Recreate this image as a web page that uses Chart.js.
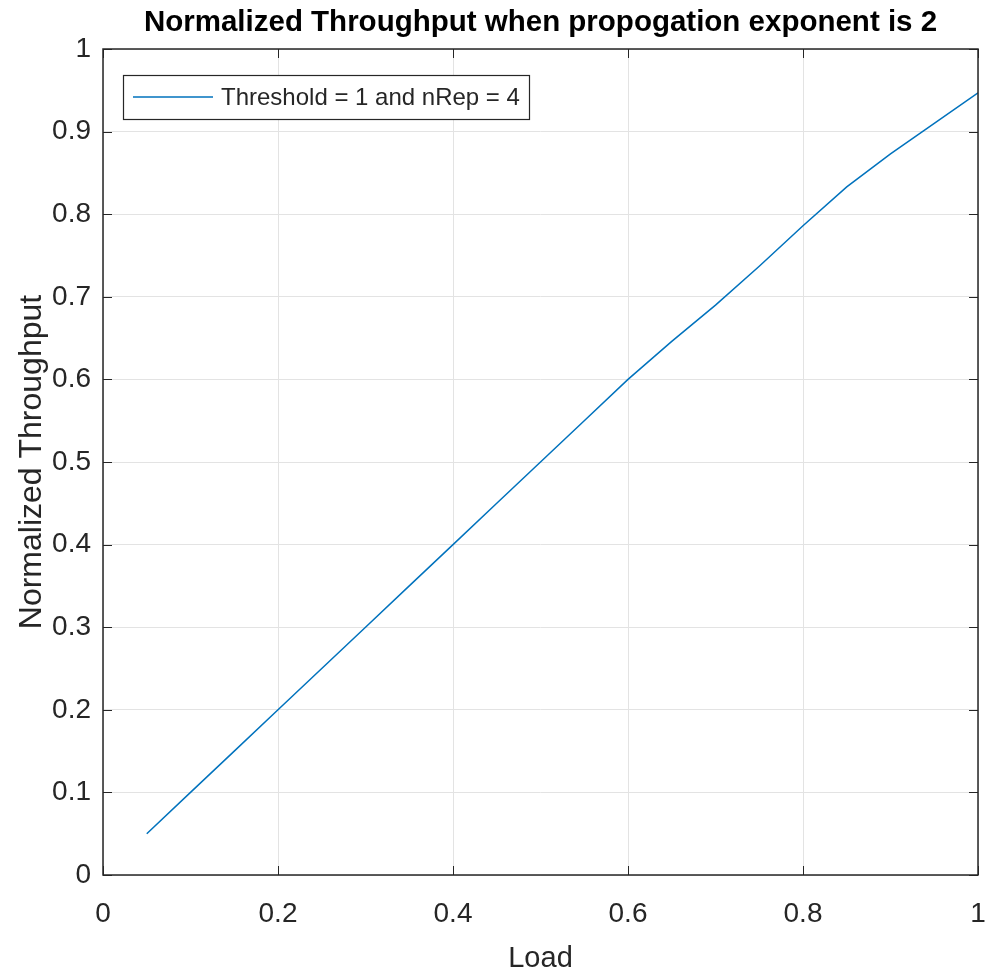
<!DOCTYPE html>
<html>
<head>
<meta charset="utf-8">
<script src="https://cdn.jsdelivr.net/npm/chart.js@4"></script>
<style>
  html, body { margin: 0; padding: 0; background: #fff; }
  canvas { display: block; }
</style>
</head>
<body>
<canvas id="chart" width="992" height="980"></canvas>
<script>
// valori
const loads = [0.05, 0.1, 0.15, 0.2, 0.25, 0.3, 0.35, 0.4, 0.45, 0.5,
               0.55, 0.6, 0.65, 0.7, 0.75, 0.8, 0.85, 0.9, 0.95, 1];
const throughput = [0.05, 0.1, 0.15, 0.2, 0.25, 0.3, 0.35, 0.4, 0.45, 0.5,
                    0.55, 0.6, 0.646, 0.69, 0.737, 0.786, 0.833, 0.873, 0.91, 0.947];
const seriesLabel = 'Threshold = 1 and nRep = 4';
const titleText = 'Normalized Throughput when propogation exponent is 2';
const xTitle = 'Load';
const yTitle = 'Normalized Throughput';

const FONT = '"Liberation Sans", Arial, sans-serif';
const INK = '#262626';
const LINE_COLOR = '#0072BD';

function fmt(v) {
    return String(+Number(v).toFixed(2));
}

// Cornice, tacche interne, titolo e legenda in stile MATLAB
const matlabStyle = {
    id: 'matlabStyle',
    afterDraw(chart) {
        const ctx = chart.ctx;
        const a = chart.chartArea;
        const xs = chart.scales.x;
        const ys = chart.scales.y;
        ctx.save();

        // tacche verso l'interno
        ctx.strokeStyle = INK;
        ctx.lineWidth = 1;
        ctx.beginPath();
        xs.ticks.forEach(t => {
            const px = Math.round(xs.getPixelForValue(t.value)) + 0.5;
            ctx.moveTo(px, a.bottom); ctx.lineTo(px, a.bottom - 9);
            ctx.moveTo(px, a.top); ctx.lineTo(px, a.top + 9);
        });
        ys.ticks.forEach(t => {
            const py = Math.round(ys.getPixelForValue(t.value)) + 0.5;
            ctx.moveTo(a.left, py); ctx.lineTo(a.left + 9, py);
            ctx.moveTo(a.right, py); ctx.lineTo(a.right - 9, py);
        });
        ctx.stroke();

        // box degli assi
        ctx.lineWidth = 1.5;
        ctx.strokeRect(a.left, a.top, a.right - a.left, a.bottom - a.top);

        // titolo
        ctx.fillStyle = '#000';
        ctx.font = 'bold 29.5px ' + FONT;
        ctx.textAlign = 'center';
        ctx.textBaseline = 'middle';
        ctx.fillText(titleText, (a.left + a.right) / 2, 23);

        // legenda
        const lx = a.left + 20, ly = a.top + 26, lw = 406, lh = 44;
        ctx.fillStyle = '#fff';
        ctx.fillRect(lx, ly, lw, lh);
        ctx.strokeStyle = INK;
        ctx.lineWidth = 1.2;
        ctx.strokeRect(lx + 0.5, ly + 0.5, lw, lh);
        ctx.strokeStyle = LINE_COLOR;
        ctx.lineWidth = 1.5;
        ctx.beginPath();
        ctx.moveTo(lx + 10, ly + lh / 2);
        ctx.lineTo(lx + 90, ly + lh / 2);
        ctx.stroke();
        ctx.fillStyle = INK;
        ctx.font = '24px ' + FONT;
        ctx.textAlign = 'left';
        ctx.fillText(chart.data.datasets[0].label, lx + 98, ly + lh / 2 + 1);

        ctx.restore();
    }
};

const ctx = document.getElementById('chart');
new Chart(ctx, {
    type: 'line',
    data: {
        datasets: [{
            label: seriesLabel,
            data: loads.map((x, i) => ({ x: x, y: throughput[i] })),
            borderColor: LINE_COLOR,
            borderWidth: 1.5,
            pointRadius: 0,
            tension: 0,
            fill: false
        }]
    },
    options: {
        responsive: false,
        animation: false,
        layout: { padding: { top: 49, right: 14, left: 0, bottom: 0 } },
        plugins: {
            legend: { display: false },
            title: { display: false },
            tooltip: { enabled: false }
        },
        scales: {
            x: {
                type: 'linear',
                min: 0,
                max: 1,
                border: { display: false },
                grid: { color: '#e3e3e3', lineWidth: 1, drawTicks: false },
                ticks: {
                    stepSize: 0.2,
                    padding: 22,
                    color: INK,
                    font: { family: FONT, size: 28 },
                    maxRotation: 0,
                    callback: v => fmt(v)
                },
                title: {
                    display: true,
                    text: xTitle,
                    color: INK,
                    font: { family: FONT, size: 29 },
                    padding: { top: 0, bottom: 4 }
                },
                afterFit: s => {
                    s.height = 105;
                    s.paddingLeft = 0;
                    s.paddingRight = 0;
                }
            },
            y: {
                type: 'linear',
                min: 0,
                max: 1,
                border: { display: false },
                grid: { color: '#e3e3e3', lineWidth: 1, drawTicks: false },
                ticks: {
                    stepSize: 0.1,
                    padding: 12,
                    color: INK,
                    font: { family: FONT, size: 28 },
                    callback: v => fmt(v)
                },
                title: {
                    display: true,
                    text: yTitle,
                    color: INK,
                    font: { family: FONT, size: 32 },
                    padding: { top: 13, bottom: 0 }
                },
                afterFit: s => {
                    s.width = 103;
                    s.paddingTop = 0;
                    s.paddingBottom = 0;
                }
            }
        }
    },
    plugins: [matlabStyle]
});
</script>
</body>
</html>
